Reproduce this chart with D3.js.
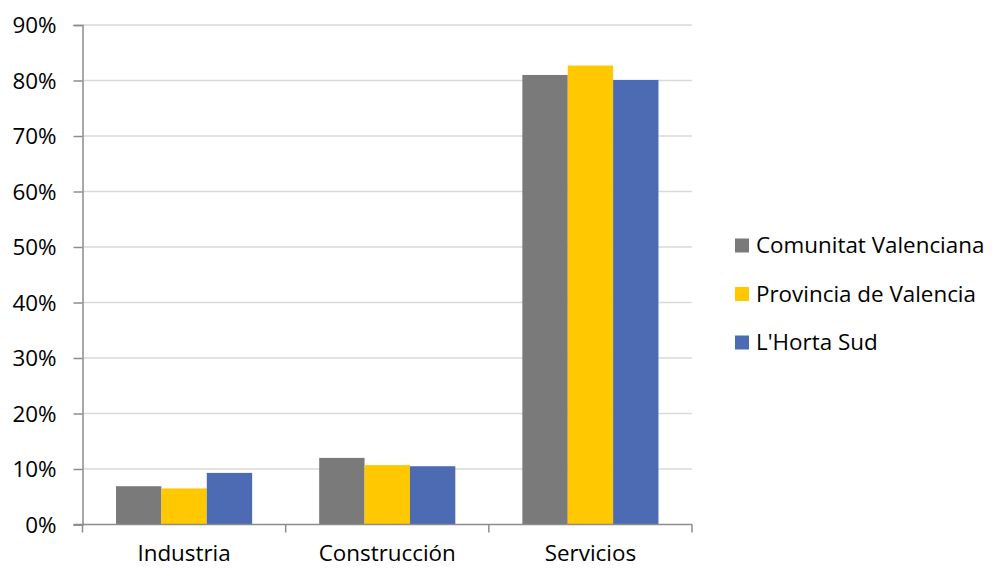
<!DOCTYPE html>
<html><head><meta charset="utf-8">
<script src="https://cdn.jsdelivr.net/npm/d3@7"></script>
<style>body{margin:0;background:#fff}svg{display:block}text{font-family:"Open Sans",sans-serif;fill:#000}</style>
</head><body><svg id="c" width="996" height="569"></svg>
<script>
const categories = ["Industria", "Construcción", "Servicios"];
const seriesNames = ["Comunitat Valenciana", "Provincia de Valencia", "L'Horta Sud"];
const comunitat = [6.9, 12.0, 81.0];
const provincia = [6.5, 10.7, 82.7];
const horta = [9.3, 10.5, 80.1];
const yTicks = [0, 10, 20, 30, 40, 50, 60, 70, 80, 90];
const colors = ["#7a7a7a", "#ffc800", "#4c6bb3"];

const series = [comunitat, provincia, horta];
const svg = d3.select("#c");
const FS = "22.4px";
const x0 = 82.5, x1 = 692, yTop = 25, yBot = 524.5;
const y = d3.scaleLinear().domain([0, 90]).range([yBot, yTop]);
const x = d3.scaleBand().domain(categories).range([x0, x1]).paddingInner(0.33).paddingOuter(0.165);
const xs = d3.scaleBand().domain(d3.range(series.length)).range([0, x.bandwidth()]);

// gridlines
svg.append("g").selectAll("line").data(yTicks.filter(d => d > 0)).join("line")
  .attr("x1", x0).attr("x2", x1).attr("y1", d => y(d)).attr("y2", d => y(d))
  .attr("stroke", "#d9d9d9").attr("stroke-width", 1.5);

// bars
series.forEach((vals, si) => {
  svg.append("g").selectAll("rect").data(vals).join("rect")
    .attr("x", (d, i) => x(categories[i]) + xs(si))
    .attr("width", xs.bandwidth())
    .attr("y", d => y(d))
    .attr("height", d => yBot - y(d))
    .attr("fill", colors[si]);
});

// y axis
const ya = d3.axisLeft(y).tickValues(yTicks).tickFormat(d => d + "%").tickSize(9).tickPadding(17);
const gy = svg.append("g").attr("transform", `translate(${x0},0)`).call(ya);
gy.select(".domain").attr("stroke", "#8c8c8c").attr("stroke-width", 1.5);
gy.selectAll(".tick line").attr("stroke", "#8c8c8c").attr("stroke-width", 1.5);
gy.selectAll(".tick text").style("font-size", FS).attr("dy", "0.35em");

// x axis
svg.append("line").attr("x1", x0 - 9).attr("x2", x1).attr("y1", yBot).attr("y2", yBot)
  .attr("stroke", "#8c8c8c").attr("stroke-width", 1.5);
const bounds = d3.range(categories.length + 1).map(i => x0 + (x1 - x0) * i / categories.length);
svg.append("g").selectAll("line").data(bounds).join("line")
  .attr("x1", d => d).attr("x2", d => d).attr("y1", yBot).attr("y2", yBot + 8)
  .attr("stroke", "#8c8c8c").attr("stroke-width", 1.5);
svg.append("g").selectAll("text").data(categories).join("text")
  .attr("x", d => x(d) + x.bandwidth() / 2).attr("y", 561)
  .attr("text-anchor", "middle").style("font-size", FS).text(d => d);

// legend
const lg = svg.append("g");
seriesNames.forEach((n, i) => {
  const cy = 245.5 + i * 48.5;
  lg.append("rect").attr("x", 735).attr("y", cy - 7).attr("width", 14).attr("height", 14).attr("fill", colors[i]);
  lg.append("text").attr("x", 756).attr("y", cy).attr("dy", "0.35em").style("font-size", FS).text(n);
});
</script></body></html>
